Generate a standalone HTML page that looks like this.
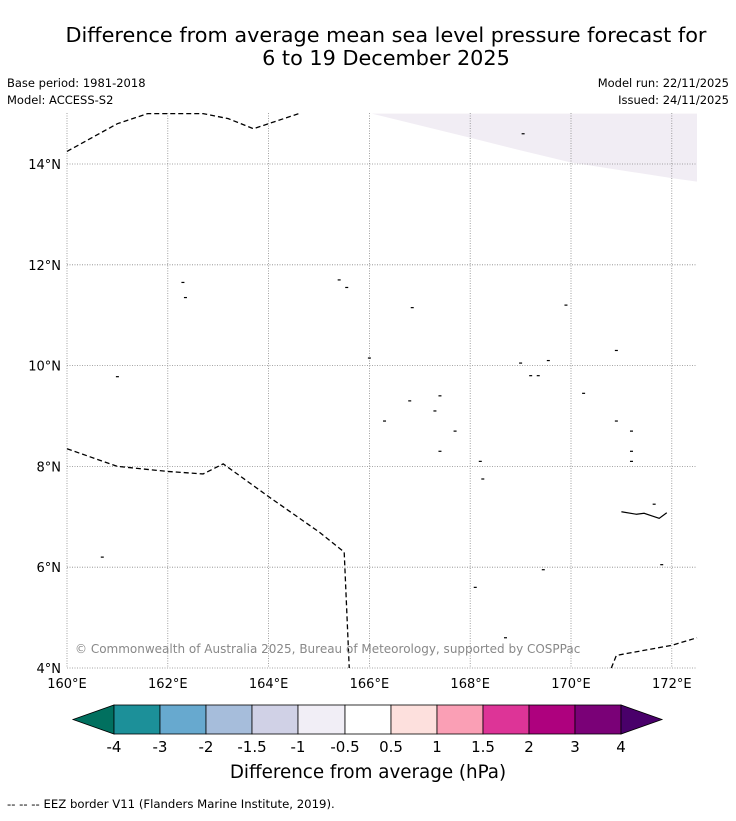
<!DOCTYPE html>
<html><head><meta charset="utf-8"><style>
body{margin:0;background:#fff;width:736px;height:816px;overflow:hidden;font-family:"Liberation Sans","DejaVu Sans",sans-serif}
svg text{font-family:"DejaVu Sans","Liberation Sans",sans-serif}
</style></head><body>
<svg width="736" height="816">
<text x="386" y="42" text-anchor="middle" font-size="20.8">Difference from average mean sea level pressure forecast for</text>
<text x="386" y="65" text-anchor="middle" font-size="20.8">6 to 19 December 2025</text>
<text x="7" y="87" font-size="11.5">Base period: 1981-2018</text>
<text x="7" y="104" font-size="11.5">Model: ACCESS-S2</text>
<text x="729" y="87" font-size="11.5" text-anchor="end">Model run: 22/11/2025</text>
<text x="729" y="104" font-size="11.5" text-anchor="end">Issued: 24/11/2025</text>
<g id="map"></g>
<g id="cbar"></g>
<text x="368" y="778" text-anchor="middle" font-size="18.3">Difference from average (hPa)</text>
<text x="7" y="808" font-size="11.7">--  --  -- EEZ border V11 (Flanders Marine Institute, 2019).</text>
</svg>
<script>
const lonTicks=[160,162,164,166,168,170,172];
const latTicks=[4,6,8,10,12,14];
const levels=["-4","-3","-2","-1.5","-1","-0.5","0.5","1","1.5","2","3","4"];
const colors=["#01705f","#1c9099","#67a9cf","#a6bddb","#d0d1e6","#f1eef6","#ffffff","#fde0dd","#fa9fb5","#dd3497","#ae017e","#7a0177","#49006a"];
const shadeLon=[166.05,168,169,170,172,172.5,172.5];
const shadeLat=[15,14.52,14.27,14.03,13.72,13.65,15];
const eez1=[[160,14.25],[161,14.8],[161.6,15],[162.7,15],[163.2,14.9],[163.7,14.7],[164.6,15]];
const eez2=[[160,8.35],[161,8],[162,7.9],[162.7,7.85],[163.1,8.05],[164,7.4],[165,6.7],[165.5,6.3],[165.6,4]];
const eez3=[[170.8,4],[170.9,4.25],[172,4.45],[172.5,4.6]];
const spots=[[161,9.78],[160.7,6.2],[162.3,11.65],[162.35,11.35],[165.4,11.7],[165.55,11.55],[166,10.15],[166.85,11.15],[166.3,8.9],[166.8,9.3],[167.4,9.4],[167.3,9.1],[167.7,8.7],[167.4,8.3],[168.2,8.1],[168.25,7.75],[169,10.05],[169.55,10.1],[169.2,9.8],[169.35,9.8],[170.25,9.45],[169.9,11.2],[170.9,10.3],[170.9,8.9],[171.2,8.7],[171.2,8.3],[171.2,8.1],[171.65,7.25],[171.8,6.05],[169.45,5.95],[168.1,5.6],[168.7,4.6],[169.05,14.6]];
const X=l=>67+(l-160)*50.4, Y=a=>668-(a-4)*50.4;
const NS="http://www.w3.org/2000/svg";
function mk(t,p,a){const e=document.createElementNS(NS,t);for(const k in a)e.setAttribute(k,a[k]);p.appendChild(e);return e;}
const map=document.getElementById('map');
let pts=shadeLon.map((l,i)=>X(l)+','+Y(shadeLat[i])).join(' ');
let sh=mk('polygon',map,{points:pts,fill:'#f1edf4'});


lonTicks.forEach(l=>{
 const g=mk('line',map,{x1:X(l),x2:X(l),y1:113,y2:668,stroke:'#888','stroke-width':0.8,'stroke-dasharray':'1,1.5'});
 
 
 const t=mk('text',map,{x:X(l),y:688,'text-anchor':'middle','font-size':13});t.textContent=l+'°E';
 
 
});
latTicks.forEach(a=>{
 const g=mk('line',map,{x1:67,x2:697,y1:Y(a),y2:Y(a),stroke:'#888','stroke-width':0.8,'stroke-dasharray':'1,1.5'});
 
 
 const t=mk('text',map,{x:61,y:Y(a)+5,'text-anchor':'end','font-size':13});t.textContent=a+'°N';
 
 
});
[eez1,eez2,eez3].forEach(e=>{
 const p=mk('polyline',map,{points:e.map(q=>X(q[0])+','+Y(q[1])).join(' '),fill:'none',stroke:'#000','stroke-width':1.3,'stroke-dasharray':'5,3'});
 
 
});
spots.forEach(s=>{
 const p=mk('line',map,{x1:X(s[0])-1.5,y1:Y(s[1]),x2:X(s[0])+1.5,y2:Y(s[1]),stroke:'#000','stroke-width':1.2});
 
 
});
const isl=mk('polyline',map,{points:[[171,7.1],[171.3,7.05],[171.45,7.07]].map(q=>X(q[0])+','+Y(q[1])).join(' ')+' '+[[171.6,7.02],[171.75,6.97],[171.9,7.08]].map(q=>X(q[0])+','+Y(q[1])).join(' '),fill:'none',stroke:'#000','stroke-width':1.2});


const cp=mk('text',map,{x:75,y:653,'font-size':12,fill:'#888'});cp.textContent='© Commonwealth of Australia 2025, Bureau of Meteorology, supported by COSPPac';


const cb=document.getElementById('cbar');
const bx=[114,160,206,252,298,345,391,437,483,529,575,621];
const y0=705,y1=734;
let t1=mk('polygon',cb,{points:`73,${(y0+y1)/2} 114,${y0} 114,${y1}`,fill:colors[0],stroke:'#000','stroke-width':0.8});


for(let i=0;i<11;i++){
 const r=mk('rect',cb,{x:bx[i],y:y0,width:bx[i+1]-bx[i],height:y1-y0,fill:colors[i+1],stroke:'#000','stroke-width':0.8});
 
 
}
let t2=mk('polygon',cb,{points:`662,${(y0+y1)/2} 621,${y0} 621,${y1}`,fill:colors[12],stroke:'#000','stroke-width':0.8});


levels.forEach((v,i)=>{
 const t=mk('text',cb,{x:bx[i],y:752,'text-anchor':'middle','font-size':15});t.textContent=v;
 
 
});
</script>
</body></html>
